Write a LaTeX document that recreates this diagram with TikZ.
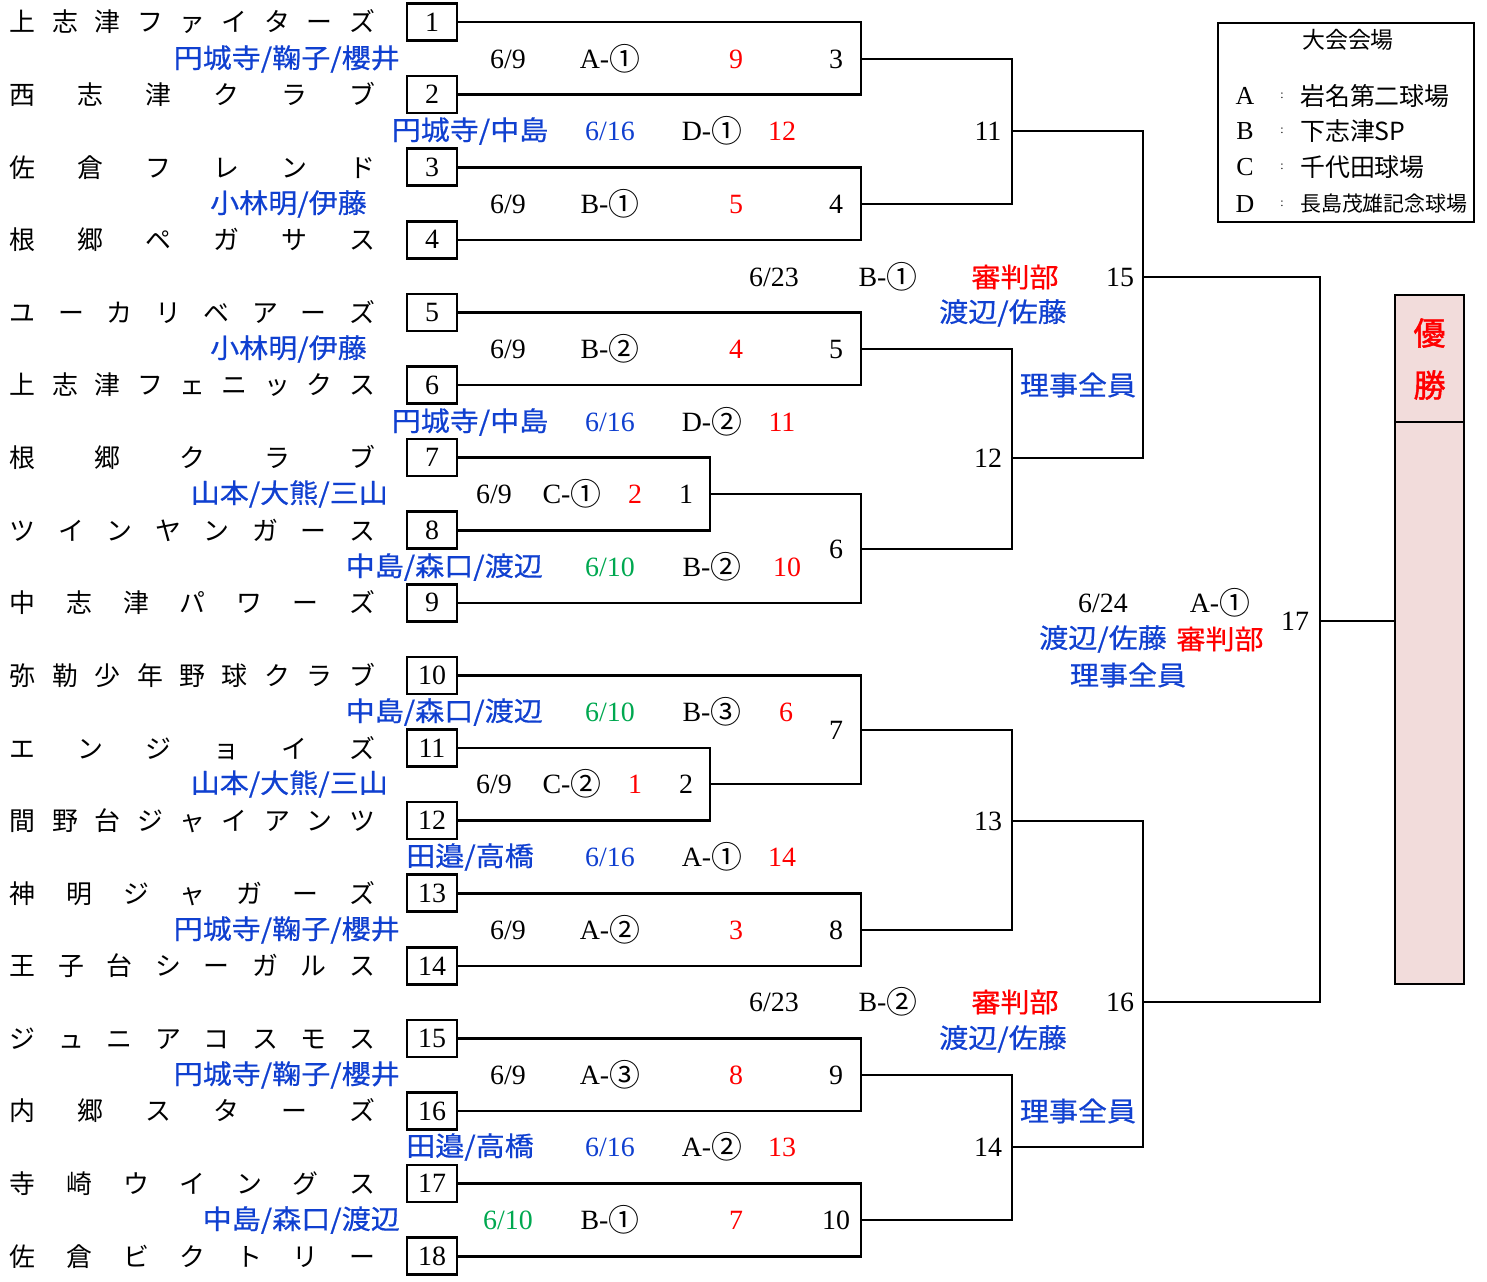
\documentclass[tikz,border=0pt]{standalone}
\usepackage{fontspec}
\setmainfont{Liberation Serif}
\newfontfamily\jp{Noto Sans CJK JP}
\newfontfamily\jpwide[FakeStretch=1.08,FakeBold=0.6]{Noto Sans CJK JP}
\newfontfamily\jpbold[FakeBold=1.5]{Noto Sans CJK JP}
\usetikzlibrary{positioning}
\definecolor{refblue}{RGB}{16,64,208}
\definecolor{daygreen}{RGB}{0,168,80}
\definecolor{winpink}{RGB}{242,220,219}
\newcommand\spreadname[1]{\makebox[365bp][s]{\spreadloop#1\spreadend}}
\def\spreadloop#1#2\spreadend{#1\ifx\relax#2\relax\else\hfill\spreadloop#2\spreadend\fi}
\newcommand\court[2]{#1-\raisebox{-2.5bp}{\jp\fontsize{31}{31}\selectfont #2}}
\begin{document}
\begin{tikzpicture}[x=1bp, y=-1bp, every node/.style={on grid},
		seed/.style={draw, line width=2.6bp, minimum width=50bp, minimum height=37bp, inner sep=0pt, font=\fontsize{28}{28}\selectfont},
		team/.style={inner sep=0pt, font=\jp\fontsize{26}{26}\selectfont},
		lbl/.style={inner sep=0pt, font=\fontsize{28}{28}\selectfont},
		score/.style={lbl, text=red},
		bday/.style={lbl, text=refblue},
		gday/.style={lbl, text=daygreen},
		refb/.style={inner sep=0pt, text=refblue, font=\jpwide\fontsize{27}{27}\selectfont},
		judge/.style={refb, text=red},
		bracket/.style={line width=2.6bp},
		node distance=72.6bp]
	\useasboundingbox (0,0) rectangle (1487,1281);

	\node[seed] (s1) at (432,22) {1};
	\node[seed, below=of s1] (s2) {2};
	\node[seed, below=of s2] (s3) {3};
	\node[seed, below=of s3] (s4) {4};
	\node[seed, below=of s4] (s5) {5};
	\node[seed, below=of s5] (s6) {6};
	\node[seed, below=of s6] (s7) {7};
	\node[seed, below=of s7] (s8) {8};
	\node[seed, below=of s8] (s9) {9};
	\node[seed, below=of s9] (s10) {10};
	\node[seed, below=of s10] (s11) {11};
	\node[seed, below=of s11] (s12) {12};
	\node[seed, below=of s12] (s13) {13};
	\node[seed, below=of s13] (s14) {14};
	\node[seed, below=of s14] (s15) {15};
	\node[seed, below=of s15] (s16) {16};
	\node[seed, below=of s16] (s17) {17};
	\node[seed, below=of s17] (s18) {18};

	\node[team, left=239.5bp of s1] (t1) {\spreadname{上志津ファイターズ}};
	\node[team, left=239.5bp of s2] (t2) {\spreadname{西志津クラブ}};
	\node[team, left=239.5bp of s3] (t3) {\spreadname{佐倉フレンド}};
	\node[team, left=239.5bp of s4] (t4) {\spreadname{根郷ペガサス}};
	\node[team, left=239.5bp of s5] (t5) {\spreadname{ユーカリベアーズ}};
	\node[team, left=239.5bp of s6] (t6) {\spreadname{上志津フェニックス}};
	\node[team, left=239.5bp of s7] (t7) {\spreadname{根郷クラブ}};
	\node[team, left=239.5bp of s8] (t8) {\spreadname{ツインヤンガース}};
	\node[team, left=239.5bp of s9] (t9) {\spreadname{中志津パワーズ}};
	\node[team, left=239.5bp of s10] (t10) {\spreadname{弥勒少年野球クラブ}};
	\node[team, left=239.5bp of s11] (t11) {\spreadname{エンジョイズ}};
	\node[team, left=239.5bp of s12] (t12) {\spreadname{間野台ジャイアンツ}};
	\node[team, left=239.5bp of s13] (t13) {\spreadname{神明ジャガーズ}};
	\node[team, left=239.5bp of s14] (t14) {\spreadname{王子台シーガルス}};
	\node[team, left=239.5bp of s15] (t15) {\spreadname{ジュニアコスモス}};
	\node[team, left=239.5bp of s16] (t16) {\spreadname{内郷スターズ}};
	\node[team, left=239.5bp of s17] (t17) {\spreadname{寺崎ウイングス}};
	\node[team, left=239.5bp of s18] (t18) {\spreadname{佐倉ビクトリー}};

	% match points
	\coordinate (m1) at (710,494);
	\coordinate (m2) at (710,784);
	\coordinate (m3) at (861,59);
	\coordinate (m4) at (861,204);
	\coordinate (m5) at (861,349);
	\coordinate (m6) at (861,549);
	\coordinate (m7) at (861,730);
	\coordinate (m8) at (861,930);
	\coordinate (m9) at (861,1075);
	\coordinate (m10) at (861,1220);
	\coordinate (m11) at (1012,131);
	\coordinate (m12) at (1012,458);
	\coordinate (m13) at (1012,821);
	\coordinate (m14) at (1012,1147);
	\coordinate (m15) at (1143,277);
	\coordinate (m16) at (1143,1002);
	\coordinate (m17) at (1320,621);

	\node[draw, line width=2.8bp, fill=winpink, minimum width=69bp, minimum height=127bp, inner sep=0pt] (wintop) at (1429.5,358.5) {};
	\node[draw, line width=2.8bp, fill=winpink, minimum width=69bp, minimum height=562bp, inner sep=0pt] (winbot) at (1429.5,703) {};
	\node[inner sep=0pt, text=red, font=\jpbold\fontsize{32}{32}\selectfont] (win1) at (1429.5,333) {優};
	\node[inner sep=0pt, text=red, font=\jpbold\fontsize{32}{32}\selectfont] (win2) at (1429.5,385) {勝};

	\draw[bracket] (s1.east) -| (m3) |- (s2.east);
	\draw[bracket] (s3.east) -| (m4) |- (s4.east);
	\draw[bracket] (s5.east) -| (m5) |- (s6.east);
	\draw[bracket] (s7.east) -| (m1) |- (s8.east);
	\draw[bracket] (m1) -| (m6) |- (s9.east);
	\draw[bracket] (s11.east) -| (m2) |- (s12.east);
	\draw[bracket] (s10.east) -| (m7) |- (m2);
	\draw[bracket] (s13.east) -| (m8) |- (s14.east);
	\draw[bracket] (s15.east) -| (m9) |- (s16.east);
	\draw[bracket] (s17.east) -| (m10) |- (s18.east);
	\draw[bracket] (m3) -| (m11) |- (m4);
	\draw[bracket] (m5) -| (m12) |- (m6);
	\draw[bracket] (m7) -| (m13) |- (m8);
	\draw[bracket] (m9) -| (m14) |- (m10);
	\draw[bracket] (m11) -| (m15) |- (m12);
	\draw[bracket] (m13) -| (m16) |- (m14);
	\draw[bracket] (m15) -| (m17) |- (m16);
	\draw[bracket] (m17) -- (m17 -| winbot.west);

	% match 3
	\node[refb, anchor=east] (r3) at (400,59) {円城寺/鞠子/櫻井};
	\node[lbl] (d3) at (508,59) {6/9};
	\node[lbl] (c3) at (610,59) {\court{A}{①}};
	\node[score] (sc3) at (736,59) {9};
	\node[lbl] (n3) at (836,59) {3};
	% match 11
	\node[refb] (r11) at (470,131) {円城寺/中島};
	\node[bday] (d11) at (610,131) {6/16};
	\node[lbl] (c11) at (712,131) {\court{D}{①}};
	\node[score] (sc11) at (782,131) {12};
	\node[lbl] (n11) at (988,131) {11};
	% match 4
	\node[refb, anchor=east] (r4) at (367,204) {小林明/伊藤};
	\node[lbl] (d4) at (508,204) {6/9};
	\node[lbl] (c4) at (610,204) {\court{B}{①}};
	\node[score] (sc4) at (736,204) {5};
	\node[lbl] (n4) at (836,204) {4};
	% match 15
	\node[lbl] (d15) at (774,277) {6/23};
	\node[lbl] (c15) at (888,277) {\court{B}{①}};
	\node[judge] (j15) at (1015,277) {審判部};
	\node[lbl] (n15) at (1120,277) {15};
	\node[refb] (r15) at (1003,313) {渡辺/佐藤};
	\node[refb] (x15) at (1078,385) {理事全員};
	% match 5
	\node[refb, anchor=east] (r5) at (367,349) {小林明/伊藤};
	\node[lbl] (d5) at (508,349) {6/9};
	\node[lbl] (c5) at (610,349) {\court{B}{②}};
	\node[score] (sc5) at (736,349) {4};
	\node[lbl] (n5) at (836,349) {5};
	% match 12
	\node[refb] (r12) at (470,422) {円城寺/中島};
	\node[bday] (d12) at (610,422) {6/16};
	\node[lbl] (c12) at (712,422) {\court{D}{②}};
	\node[score] (sc12) at (782,422) {11};
	\node[lbl] (n12) at (988,458) {12};
	% match 1
	\node[refb, anchor=east] (r1) at (388,494) {山本/大熊/三山};
	\node[lbl] (d1) at (494,494) {6/9};
	\node[lbl] (c1) at (572,494) {\court{C}{①}};
	\node[score] (sc1) at (635,494) {2};
	\node[lbl] (n1) at (686,494) {1};
	% match 6
	\node[lbl] (n6) at (836,549) {6};
	\node[refb, anchor=east] (r6) at (543,567) {中島/森口/渡辺};
	\node[gday] (d6) at (610,567) {6/10};
	\node[lbl] (c6) at (712,567) {\court{B}{②}};
	\node[score] (sc6) at (787,567) {10};
	% match 17
	\node[lbl] (d17) at (1103,603) {6/24};
	\node[lbl] (c17) at (1220,603) {\court{A}{①}};
	\node[lbl] (n17) at (1295,621) {17};
	\node[refb] (r17) at (1103,639) {渡辺/佐藤};
	\node[judge] (j17) at (1220,639) {審判部};
	\node[refb] (x17) at (1128,675) {理事全員};
	% match 7
	\node[refb, anchor=east] (r7) at (543,712) {中島/森口/渡辺};
	\node[gday] (d7) at (610,712) {6/10};
	\node[lbl] (c7) at (712,712) {\court{B}{③}};
	\node[score] (sc7) at (786,712) {6};
	\node[lbl] (n7) at (836,730) {7};
	% match 2
	\node[refb, anchor=east] (r2) at (388,784) {山本/大熊/三山};
	\node[lbl] (d2) at (494,784) {6/9};
	\node[lbl] (c2) at (572,784) {\court{C}{②}};
	\node[score] (sc2) at (635,784) {1};
	\node[lbl] (n2) at (686,784) {2};
	% match 13
	\node[lbl] (n13) at (988,821) {13};
	\node[refb] (r13) at (470,857) {田邉/高橋};
	\node[bday] (d13) at (610,857) {6/16};
	\node[lbl] (c13) at (712,857) {\court{A}{①}};
	\node[score] (sc13) at (782,857) {14};
	% match 8
	\node[refb, anchor=east] (r8) at (400,930) {円城寺/鞠子/櫻井};
	\node[lbl] (d8) at (508,930) {6/9};
	\node[lbl] (c8) at (610,930) {\court{A}{②}};
	\node[score] (sc8) at (736,930) {3};
	\node[lbl] (n8) at (836,930) {8};
	% match 16
	\node[lbl] (d16) at (774,1002) {6/23};
	\node[lbl] (c16) at (888,1002) {\court{B}{②}};
	\node[judge] (j16) at (1015,1002) {審判部};
	\node[lbl] (n16) at (1120,1002) {16};
	\node[refb] (r16) at (1003,1039) {渡辺/佐藤};
	\node[refb] (x16) at (1078,1111) {理事全員};
	% match 9
	\node[refb, anchor=east] (r9) at (400,1075) {円城寺/鞠子/櫻井};
	\node[lbl] (d9) at (508,1075) {6/9};
	\node[lbl] (c9) at (610,1075) {\court{A}{③}};
	\node[score] (sc9) at (736,1075) {8};
	\node[lbl] (n9) at (836,1075) {9};
	% match 14
	\node[refb] (r14) at (470,1147) {田邉/高橋};
	\node[bday] (d14) at (610,1147) {6/16};
	\node[lbl] (c14) at (712,1147) {\court{A}{②}};
	\node[score] (sc14) at (782,1147) {13};
	\node[lbl] (n14) at (988,1147) {14};
	% match 10
	\node[refb, anchor=east] (r10) at (400,1220) {中島/森口/渡辺};
	\node[gday] (d10) at (508,1220) {6/10};
	\node[lbl] (c10) at (610,1220) {\court{B}{①}};
	\node[score] (sc10) at (736,1220) {7};
	\node[lbl] (n10) at (836,1220) {10};

	% venues
	\node[draw, line width=1.8bp, minimum width=256bp, minimum height=199bp, inner sep=0pt] (venues) at (1346,122.5) {};
	\node[inner sep=0pt, font=\jp\fontsize{23}{23}\selectfont] (vtitle) at (1348,40) {大会会場};
	\node[inner sep=0pt, font=\fontsize{26}{26}\selectfont] (va) at (1245,96) {A};
	\node[inner sep=0pt, font=\fontsize{26}{26}\selectfont] (vb) at (1245,131) {B};
	\node[inner sep=0pt, font=\fontsize{26}{26}\selectfont] (vc) at (1245,167) {C};
	\node[inner sep=0pt, font=\fontsize{26}{26}\selectfont] (vd) at (1245,204) {D};
	\node[inner sep=0pt, font=\fontsize{12}{12}\selectfont] (ka) at (1282,96) {:};
	\node[inner sep=0pt, font=\fontsize{12}{12}\selectfont] (kb) at (1282,131) {:};
	\node[inner sep=0pt, font=\fontsize{12}{12}\selectfont] (kc) at (1282,167) {:};
	\node[inner sep=0pt, font=\fontsize{12}{12}\selectfont] (kd) at (1282,204) {:};
	\node[inner sep=0pt, anchor=west, font=\jp\fontsize{25}{25}\selectfont] (pa) at (1300,96) {岩名第二球場};
	\node[inner sep=0pt, anchor=west, font=\jp\fontsize{25}{25}\selectfont] (pb) at (1300,131) {下志津SP};
	\node[inner sep=0pt, anchor=west, font=\jp\fontsize{25}{25}\selectfont] (pc) at (1300,167) {千代田球場};
	\node[inner sep=0pt, anchor=west, font=\jp\fontsize{21}{21}\selectfont] (pd) at (1300,204) {長島茂雄記念球場};
\end{tikzpicture}
\end{document}
